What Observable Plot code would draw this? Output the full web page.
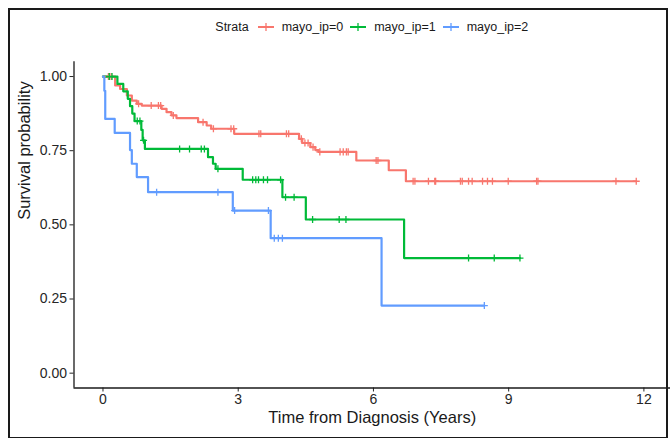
<!DOCTYPE html>
<html><head><meta charset="utf-8">
<script src="https://cdn.jsdelivr.net/npm/d3@7"></script>
<script src="https://cdn.jsdelivr.net/npm/@observablehq/plot@0.6"></script>
<style>
body{margin:0;background:#fff;font-family:"Liberation Sans",Arial,sans-serif;}
#wrap{position:relative;width:670px;height:438px;overflow:hidden;background:#fff;}
#frame{position:absolute;left:8px;top:8px;width:660px;height:431px;box-sizing:border-box;border:2px solid #1a1a1a;pointer-events:none;}
#legend{position:absolute;left:73.5px;width:596.5px;top:19px;height:16px;display:flex;justify-content:center;align-items:center;font-size:12.5px;color:#1a1a1a;white-space:nowrap;}
#legend .lab{margin-right:7px;}
#legend svg{margin-right:8px;}
#chart{position:absolute;left:0;top:40px;}
</style></head><body>
<div id="wrap"><div id="legend"></div><div id="chart"></div><div id="frame"></div></div>
<script>
// ---- data ----
const strata = ["mayo_ip=0", "mayo_ip=1", "mayo_ip=2"];
const colors = ["#F8766D", "#00BA38", "#619CFF"];
const legendTitle = "Strata";
const xTitle = "Time from Diagnosis (Years)";
const yTitle = "Survival probability";
const xTicks = [0, 3, 6, 9, 12];
const yTicks = [0, 0.25, 0.5, 0.75, 1];

// mayo_ip=0 : event times and survival after each step
const time0 = [0, 0.27, 0.38, 0.53, 0.64, 0.75, 0.86, 1.30, 1.41, 1.52, 1.63, 2.11, 2.30, 2.40, 2.91, 4.35, 4.42, 4.60, 4.71, 4.78, 5.62, 6.34, 6.72];
const surv0 = [1, 0.970, 0.958, 0.936, 0.919, 0.908, 0.902, 0.891, 0.880, 0.869, 0.860, 0.846, 0.835, 0.824, 0.807, 0.790, 0.776, 0.762, 0.752, 0.746, 0.717, 0.684, 0.647];
const end0 = 11.83;
const censor0 = [0.12, 0.18, 0.79, 1.07, 1.23, 1.28, 1.56, 2.22, 2.45, 2.84, 2.90, 3.46, 3.50, 4.07, 4.12, 4.40, 4.48, 4.55, 4.66, 4.81, 5.26, 5.33, 5.40, 5.44, 6.06, 6.10, 6.88, 6.92, 7.22, 7.36, 7.38, 7.93, 7.97, 8.11, 8.19, 8.42, 8.53, 8.64, 8.99, 9.62, 9.65, 11.38, 11.83];

// mayo_ip=1
const time1 = [0, 0.32, 0.45, 0.55, 0.60, 0.65, 0.70, 0.85, 0.88, 0.93, 2.33, 2.44, 2.50, 3.10, 3.98, 4.50, 6.68];
const surv1 = [1, 0.975, 0.950, 0.925, 0.900, 0.875, 0.850, 0.820, 0.785, 0.756, 0.728, 0.706, 0.689, 0.652, 0.593, 0.518, 0.388];
const end1 = 9.25;
const censor1 = [0.14, 0.20, 0.76, 0.82, 0.90, 1.70, 1.92, 2.18, 2.25, 2.55, 3.32, 3.39, 3.45, 3.56, 3.65, 3.94, 4.05, 4.24, 4.65, 5.24, 5.39, 8.11, 8.68, 9.25];

// mayo_ip=2
const time2 = [0, 0.03, 0.05, 0.26, 0.60, 0.64, 0.75, 1.00, 2.88, 3.72, 6.18];
const surv2 = [1, 0.952, 0.857, 0.810, 0.752, 0.706, 0.661, 0.610, 0.548, 0.455, 0.228];
const end2 = 8.46;
const censor2 = [1.19, 2.55, 2.92, 3.67, 3.80, 3.89, 3.98, 8.46];

// ---- build tables ----
const groups = [
  {g: strata[0], time: time0, surv: surv0, end: end0, cens: censor0},
  {g: strata[1], time: time1, surv: surv1, end: end1, cens: censor1},
  {g: strata[2], time: time2, surv: surv2, end: end2, cens: censor2}
];
const steps = [];
const marks = [];
for (const G of groups) {
  G.time.forEach((t, i) => steps.push({g: G.g, t, s: G.surv[i]}));
  steps.push({g: G.g, t: G.end, s: G.surv[G.surv.length - 1]});
  for (const c of G.cens) {
    let s = G.surv[0];
    G.time.forEach((t, i) => { if (t <= c) s = G.surv[i]; });
    marks.push({g: G.g, t: c, s});
  }
}

const ink = "#1a1a1a";
const plot = Plot.plot({
  width: 670,
  height: 398,
  marginLeft: 73.5,
  marginRight: 0,
  marginTop: 21.2,
  marginBottom: 50.5,
  x: {domain: [-0.643, 12.59]},
  y: {domain: [-0.05, 1.05]},
  color: {domain: strata, range: colors},
  style: {fontFamily: "'Liberation Sans', Arial, sans-serif", background: "white", color: ink, overflow: "visible"},
  marks: [
    Plot.axisY({ticks: yTicks, tickFormat: d3.format(".2f"), tickSize: 4, tickPadding: 3, fontSize: 14, label: null, color: "#262626"}),
    Plot.axisX({ticks: xTicks, tickSize: 4, tickPadding: 2, fontSize: 14, label: null, color: "#262626"}),
    Plot.ruleX([-0.643], {stroke: ink, strokeWidth: 1.3}),
    Plot.ruleY([-0.05], {stroke: ink, strokeWidth: 1.3}),
    Plot.line(steps, {x: "t", y: "s", z: "g", stroke: "g", curve: "step-after", strokeWidth: 2.2}),
    Plot.dot(marks, {x: "t", y: "s", stroke: "g", symbol: "plus", r: 2.4, strokeWidth: 1.3}),
    Plot.text([xTitle], {text: d => d, frameAnchor: "bottom", dy: 35, fontSize: 16.5, fill: ink}),
    Plot.text([yTitle], {text: d => d, frameAnchor: "left", rotate: -90, dx: -49, dy: -5, fontSize: 16.5, fill: ink})
  ]
});
document.getElementById("chart").appendChild(plot);

// ---- legend ----
const leg = document.getElementById("legend");
const title = document.createElement("span");
title.className = "lab";
title.style.marginRight = "9px";
title.textContent = legendTitle;
leg.appendChild(title);
strata.forEach((s, i) => {
  const ns = "http://www.w3.org/2000/svg";
  const sv = document.createElementNS(ns, "svg");
  sv.setAttribute("width", 16); sv.setAttribute("height", 10);
  const l1 = document.createElementNS(ns, "line");
  l1.setAttribute("x1", 0); l1.setAttribute("x2", 16); l1.setAttribute("y1", 5); l1.setAttribute("y2", 5);
  l1.setAttribute("stroke", colors[i]); l1.setAttribute("stroke-width", 2);
  const l2 = document.createElementNS(ns, "line");
  l2.setAttribute("x1", 8); l2.setAttribute("x2", 8); l2.setAttribute("y1", 1); l2.setAttribute("y2", 9);
  l2.setAttribute("stroke", colors[i]); l2.setAttribute("stroke-width", 1.3);
  sv.appendChild(l1); sv.appendChild(l2);
  leg.appendChild(sv);
  const t = document.createElement("span");
  t.className = "lab";
  t.textContent = s;
  if (i === strata.length - 1) t.style.marginRight = "0";
  leg.appendChild(t);
});
</script>
</body></html>
